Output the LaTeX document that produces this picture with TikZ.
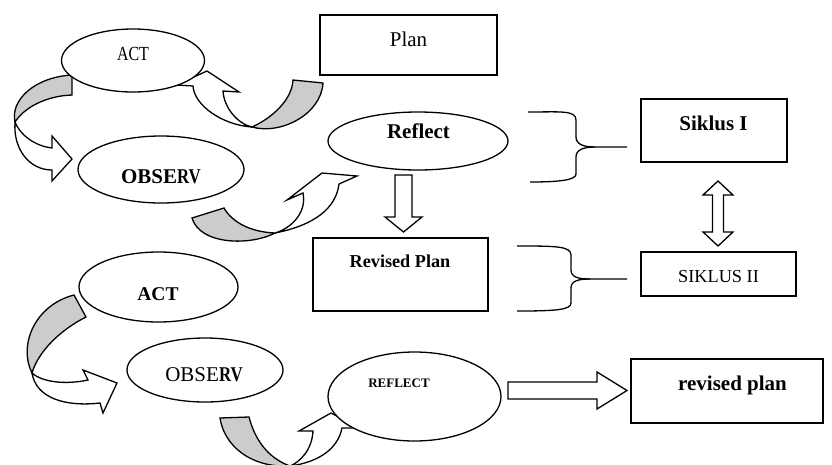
\documentclass[tikz,border=0pt]{standalone}
\usepackage{fontspec}
\setmainfont{Liberation Serif}
\newfontfamily\narrowserif[FakeStretch=0.8]{Liberation Serif}
\usetikzlibrary{shapes.geometric}
\tikzset{
 outline/.style={draw=black, line width=1.3pt, line join=miter},
 ell/.style={ellipse, outline, fill=white, inner sep=0pt},
 box/.style={rectangle, outline, fill=white, inner sep=0pt},
 back/.style={outline, fill=gray!40},
 front/.style={outline, fill=white},
 lbl/.style={anchor=base, inner sep=0pt, font=\fontsize{21}{25}\selectfont},
 brace/.style={draw=black, line width=1.3pt},
}
\begin{document}
\begin{tikzpicture}[x=1pt,y=-1pt]
\useasboundingbox (0,0) rectangle (832,464);

% ---- curved arrow A: Plan -> ACT
\path[back] (293,80) -- (323,83) .. controls (321,115) and (280,135) .. (252,127)
  .. controls (272,118) and (292,100) .. (293,80) -- cycle;
\path[front] (252,127) .. controls (222,125) and (194,105) .. (193,86) -- (176,85) -- (207,71)
  -- (239,92) -- (223,91) .. controls (224,108) and (238,124) .. (252,127) -- cycle;

% ---- curved arrow B: ACT -> OBSERV
\path[back] (72,75) -- (72,95) .. controls (45,96) and (24,108) .. (15,122)
  .. controls (10,100) and (35,77) .. (72,75) -- cycle;
\path[front] (15,122) .. controls (13,150) and (30,170) .. (52,170) -- (52,181) -- (72,159)
  -- (52,136) -- (52,148) .. controls (35,146) and (20,135) .. (15,122) -- cycle;

% ---- curved arrow C: OBSERV -> Reflect
\path[back] (192,218) -- (224,208) .. controls (232,222) and (250,232) .. (275,233)
  .. controls (250,246) and (200,245) .. (192,218) -- cycle;
\path[front] (275,233) .. controls (315,225) and (336,208) .. (339,184) -- (357,176) -- (322,173)
  -- (287,200) -- (303,193) .. controls (307,212) and (292,228) .. (275,233) -- cycle;

% ---- curved arrow D: ACT -> OBSERV (second cycle)
\path[back] (74,295) -- (86,317) .. controls (60,330) and (38,352) .. (32,373)
  .. controls (18,345) and (35,305) .. (74,295) -- cycle;
\path[front] (32,373) .. controls (36,398) and (65,407) .. (100,403) -- (103,413) -- (117,383)
  -- (83,370) -- (88,380) .. controls (65,385) and (42,382) .. (32,373) -- cycle;

% ---- curved arrow E: OBSERV -> REFLECT (second cycle)
\path[back] (220,418) -- (249,417) .. controls (255,440) and (268,458) .. (290,466)
  .. controls (250,468) and (224,445) .. (220,418) -- cycle;
\path[front] (290,466) .. controls (320,462) and (338,448) .. (342,428) -- (360,428) -- (331,413)
  -- (299,431) -- (313,431) .. controls (312,450) and (300,462) .. (290,466) -- cycle;

% ---- ellipses
\node[ell, minimum width=143pt, minimum height=63pt] (act1) at (133,60.5) {};
\node[ell, minimum width=166pt, minimum height=67pt] (obs1) at (161,169.5) {};
\node[ell, minimum width=180pt, minimum height=58pt] (refl1) at (418,141) {};
\node[ell, minimum width=159pt, minimum height=70pt] (act2) at (158.5,287) {};
\node[ell, minimum width=156pt, minimum height=64pt] (obs2) at (205,370) {};
\node[ell, minimum width=173pt, minimum height=89pt] (refl2) at (414.5,396.5) {};

% ---- boxes
\node[box, minimum width=177pt, minimum height=60pt] (plan) at (408.5,45) {};
\node[box, minimum width=175pt, minimum height=73pt] (rplan) at (400.5,274.5) {};
\node[box, minimum width=146pt, minimum height=63pt] (sik1) at (714,130.5) {};
\node[box, minimum width=155pt, minimum height=44pt] (sik2) at (718.5,274) {};
\node[box, minimum width=192pt, minimum height=64pt] (rplan2) at (727,391) {};

% ---- labels
\node[lbl, font=\fontsize{20}{24}\narrowserif] (tact1) at (133,60.5) {ACT};
\node[lbl] (tplan) at (408.5,46) {Plan};
\node[lbl] (tobs1) at (161,183) {\bfseries OBSE{\narrowserif\bfseries RV}};
\node[lbl] (trefl1) at (418.5,138) {\bfseries Reflect};
\node[lbl, font=\fontsize{18.2}{22}\selectfont] (trplan) at (400,267) {\bfseries Revised Plan};
\node[lbl] (tsik1) at (713.5,130) {\bfseries Siklus I};
\node[lbl, font=\fontsize{18.3}{22}\selectfont] (tsik2) at (718.5,282) {SIKLUS II};
\node[lbl, font=\fontsize{19.5}{23}\selectfont] (tact2) at (158,300) {\bfseries ACT};
\node[lbl] (tobs2) at (204,381.5) {OBSE{\narrowserif\bfseries RV}};
\node[lbl, font=\fontsize{13}{16}\selectfont] (trefl2) at (399,387) {\bfseries REFLECT};
\node[lbl] (trplan2) at (732.5,390) {\bfseries revised plan};

% ---- block arrows
\path[front] (395,175) -- (412,175) -- (412,217) -- (422,217) -- (403.5,232) -- (385,217)
  -- (395,217) -- cycle;
\path[front] (712.5,195) -- (712.5,232) -- (703,232) -- (718,246) -- (733,232) -- (723.5,232)
  -- (723.5,195) -- (733,195) -- (718,181) -- (703,195) -- cycle;
\path[front] (508,382) -- (597,382) -- (597,372) -- (627,390.5) -- (597,409) -- (597,399)
  -- (508,399) -- cycle;

% ---- braces
\draw[brace] (528,112) .. controls (560,112) and (576,110) .. (576,120) -- (576,137)
  .. controls (576,144) and (583,147) .. (595,147) -- (627,147);
\draw[brace] (595,147) .. controls (583,147) and (576,150) .. (576,157) -- (576,174)
  .. controls (576,180) and (560,182) .. (530,182);
\draw[brace] (517,246) .. controls (555,246) and (571,246) .. (571,255) -- (571,270)
  .. controls (571,277) and (578,279) .. (590,279) -- (627,279);
\draw[brace] (590,279) .. controls (578,279) and (571,281) .. (571,288) -- (571,303)
  .. controls (571,310) and (555,311) .. (517,311);
\end{tikzpicture}
\end{document}
